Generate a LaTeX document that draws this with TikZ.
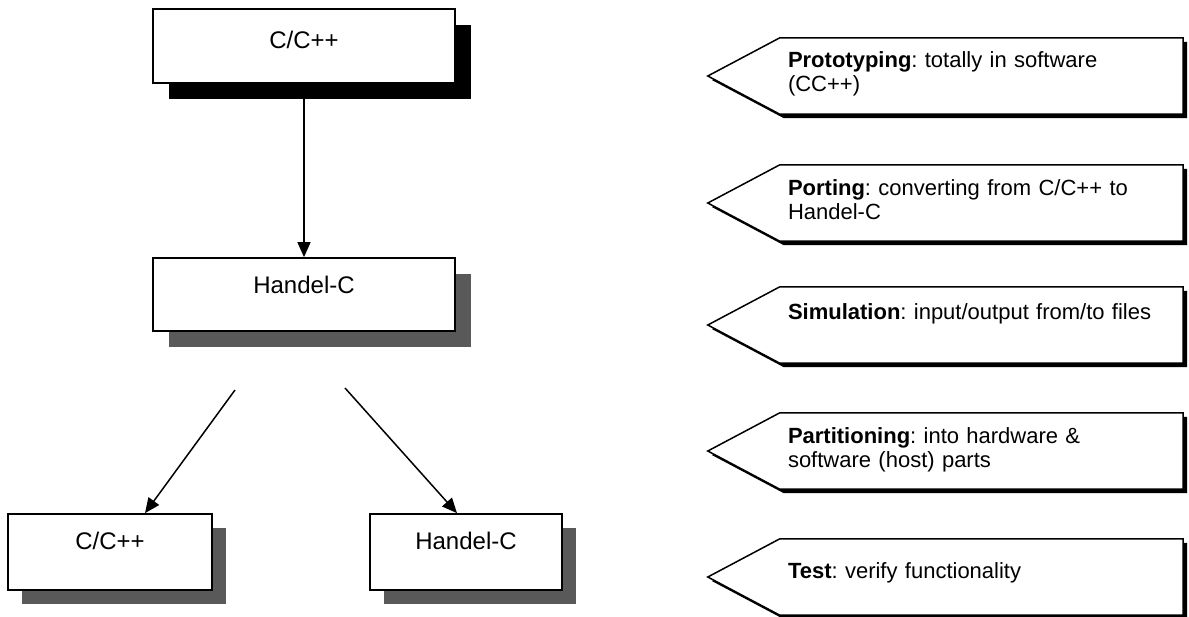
\documentclass[tikz,border=0pt]{standalone}
\usepackage{fontspec}
\setmainfont{Liberation Sans}
\usetikzlibrary{shadows,arrows.meta,calc}
\frenchspacing

% outline of a left-pointing stage tag built on a rectangular body node
\newcommand\tagoutline[1]{(#1.north west) -- (#1.north east) -- (#1.south east)
  -- (#1.south west) -- ([xshift=-72pt]#1.west) -- cycle}

% one stage tag: #1 text drop below the top, #2 name, #3 centre y, #4 text
\newcommand\stagetag[4][15]{%
  \node[tagbody] (#2) at (981.5,#3) {};
  \begin{scope}[transform canvas={xshift=4pt,yshift=-4pt}]
    \fill[tagshadow] \tagoutline{#2};
  \end{scope}
  \filldraw[tagedge] \tagoutline{#2};
  \node[tagtext] (#2-text) at ([shift={(8,#1)}]#2.north west) {#4};
}

\begin{document}
\begin{tikzpicture}[x=1pt,y=-1pt,
  flowbox/.style={draw, line width=1.7pt, fill=white, inner sep=0pt,
    font=\fontsize{24}{28}\selectfont, text height=12pt},
  darkshadow/.style={drop shadow={shadow xshift=16pt, shadow yshift=-16pt,
    fill=black, opacity=1}},
  greyshadow/.style={drop shadow={shadow xshift=14pt, shadow yshift=-14pt,
    fill=black!65, opacity=1}},
  flow/.style={line width=1.5pt, -{Triangle[length=15pt,width=13pt]}},
  tagbody/.style={minimum width=403pt, minimum height=76pt, inner sep=0pt},
  tagedge/.style={draw=black, line width=1.5pt, fill=white},
  tagshadow/.style={fill=black},
  tagtext/.style={anchor=north west, inner sep=0pt, align=left,
    text width=390pt, font=\fontsize{22}{24}\selectfont}
]
\useasboundingbox (0,0) rectangle (1189,616);

% design flow on the left
\node[flowbox, darkshadow, minimum width=302pt, minimum height=74pt,
  text depth=8pt] (src) at (304,46) {C/C++};
\node[flowbox, drop shadow={shadow xshift=16pt, shadow yshift=-16pt,
  fill=black!65, opacity=1}, minimum width=302pt, minimum height=73pt,
  text depth=15pt] (hdl) at (304,294.5) {Handel-C};
\node[flowbox, greyshadow, minimum width=204pt, minimum height=76pt,
  text depth=18pt] (swpart) at (110,552) {C/C++};
\node[flowbox, greyshadow, minimum width=192pt, minimum height=76pt,
  text depth=18pt] (hwpart) at (466,552) {Handel-C};

\coordinate (forkl) at (235,390);
\coordinate (forkr) at (345,388);

\draw[flow] (src.south) -- (hdl.north);
\draw[flow] (forkl) -- ([xshift=35pt]swpart.north);
\draw[flow] (forkr) -- ([xshift=-9pt]hwpart.north);

% stage descriptions on the right
\stagetag[14]{proto}{76}{\textbf{Prototyping}: totally in software\\(CC++)}
\stagetag[15]{port}{203}{\textbf{Porting}: converting from C/C++ to\\Handel-C}
\stagetag[17]{sim}{325}{\textbf{Simulation}: input/output from/to files}
\stagetag[15]{part}{451}{\textbf{Partitioning}: into hardware \&\\software (host) parts}
\stagetag[24]{test}{577}{\textbf{Test}: verify functionality}
\end{tikzpicture}
\end{document}
